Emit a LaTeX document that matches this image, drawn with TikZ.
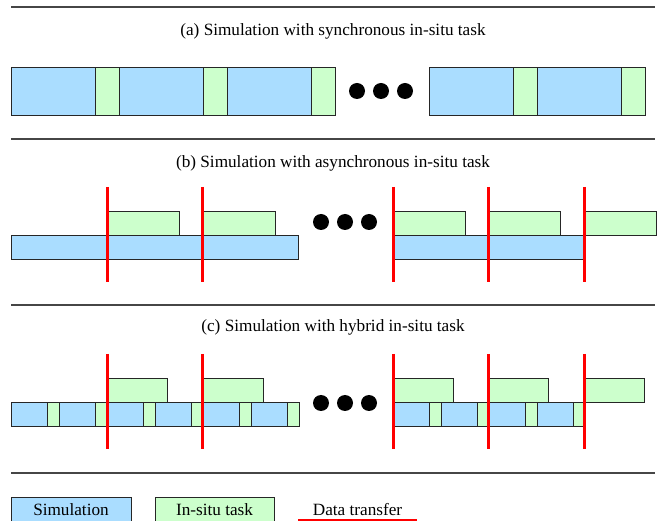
\documentclass[tikz,border=0pt]{standalone}
\usepackage{fontspec}
\setmainfont{Liberation Serif}
\definecolor{simblue}{RGB}{170,221,255}
\definecolor{taskgreen}{RGB}{204,255,204}
\definecolor{rulegray}{RGB}{70,70,70}
\begin{document}
\begin{tikzpicture}[x=1pt,y=-1pt,
  simbox/.style={draw=black!85, fill=simblue, line width=0.8pt, inner sep=0pt, outer sep=0pt, anchor=north west},
  taskbox/.style={draw=black!85, fill=taskgreen, line width=0.8pt, inner sep=0pt, outer sep=0pt, anchor=north west},
  xfer/.style={draw=red, line width=3pt},
  hrule/.style={draw=rulegray, line width=1.2pt},
  titletext/.style={font=\fontsize{17.2}{20}\selectfont, inner sep=0pt},
  bigdot/.style={circle, fill=black, minimum size=16pt, inner sep=0pt}]
\useasboundingbox (0,0) rectangle (657,521);

% horizontal rules
\foreach \y/\n in {7/r1,139/r2,305/r3,473/r4}{
  \coordinate (\n L) at (11,\y);
  \coordinate (\n R) at (655,\y);
  \draw[hrule] (\n L) -- (\n R);
}

% titles
\node[titletext] (ta) at (333,31) {(a) Simulation with synchronous in-situ task};
\node[titletext] (tb) at (333,163) {(b) Simulation with asynchronous in-situ task};
\node[titletext] (tc) at (333,327) {(c) Simulation with hybrid in-situ task};

% ---------- (a) ----------
\foreach \i/\x in {1/11,2/119,3/227,4/429,5/537}{
  \node[simbox, minimum width=84pt, minimum height=48pt] (aS\i) at (\x,67) {};
  \node[taskbox, minimum width=24pt, minimum height=48pt] (aT\i) at (\x+84,67) {};
}
\foreach \i/\x in {1/357,2/381,3/405}{
  \node[bigdot] (aD\i) at (\x,91) {};
}

% ---------- (b) ----------
\node[simbox, minimum width=287pt, minimum height=24pt] (bS1) at (11,235) {};
\node[simbox, minimum width=191pt, minimum height=24pt] (bS2) at (393,235) {};
\foreach \i/\x in {1/107,2/203,3/393,4/488,5/584}{
  \node[taskbox, minimum width=72pt, minimum height=24pt] (bT\i) at (\x,211) {};
}
\foreach \i/\x in {1/321,2/345,3/369}{
  \node[bigdot] (bD\i) at (\x,222) {};
}
\foreach \i/\x in {1/107,2/202,3/393,4/488,5/584}{
  \coordinate (bX\i t) at (\x,187);
  \coordinate (bX\i b) at (\x,282);
  \draw[xfer] (bX\i t) -- (bX\i b);
}

% ---------- (c) ----------
\foreach \i/\x in {1/11,2/59,3/107,4/155,5/203,6/251,7/393,8/441,9/489,10/537}{
  \node[simbox, minimum width=36pt, minimum height=24pt] (cS\i) at (\x,402) {};
  \node[taskbox, minimum width=12pt, minimum height=24pt] (cT\i) at (\x+36,402) {};
}
\foreach \i/\x in {1/107,2/203,3/393,4/488,5/584}{
  \node[taskbox, minimum width=60pt, minimum height=24pt] (cU\i) at (\x,378) {};
}
\foreach \i/\x in {1/321,2/345,3/369}{
  \node[bigdot] (cD\i) at (\x,403) {};
}
\foreach \i/\x in {1/107,2/202,3/393,4/488,5/584}{
  \coordinate (cX\i t) at (\x,354);
  \coordinate (cX\i b) at (\x,449);
  \draw[xfer] (cX\i t) -- (cX\i b);
}

% ---------- legend ----------
\node[simbox, minimum width=120pt, minimum height=25pt] (lS) at (11,497) {};
\node[titletext] (lSt) at (lS.center) {Simulation};
\node[taskbox, minimum width=119pt, minimum height=25pt] (lT) at (155,497) {};
\node[titletext] (lTt) at (lT.center) {In-situ task};
\node[titletext] (lD) at (357.5,509.5) {Data transfer};
\coordinate (lDa) at (298,520);
\coordinate (lDb) at (417,520);
\draw[draw=red, line width=1.5pt] (lDa) -- (lDb);
\end{tikzpicture}
\end{document}
